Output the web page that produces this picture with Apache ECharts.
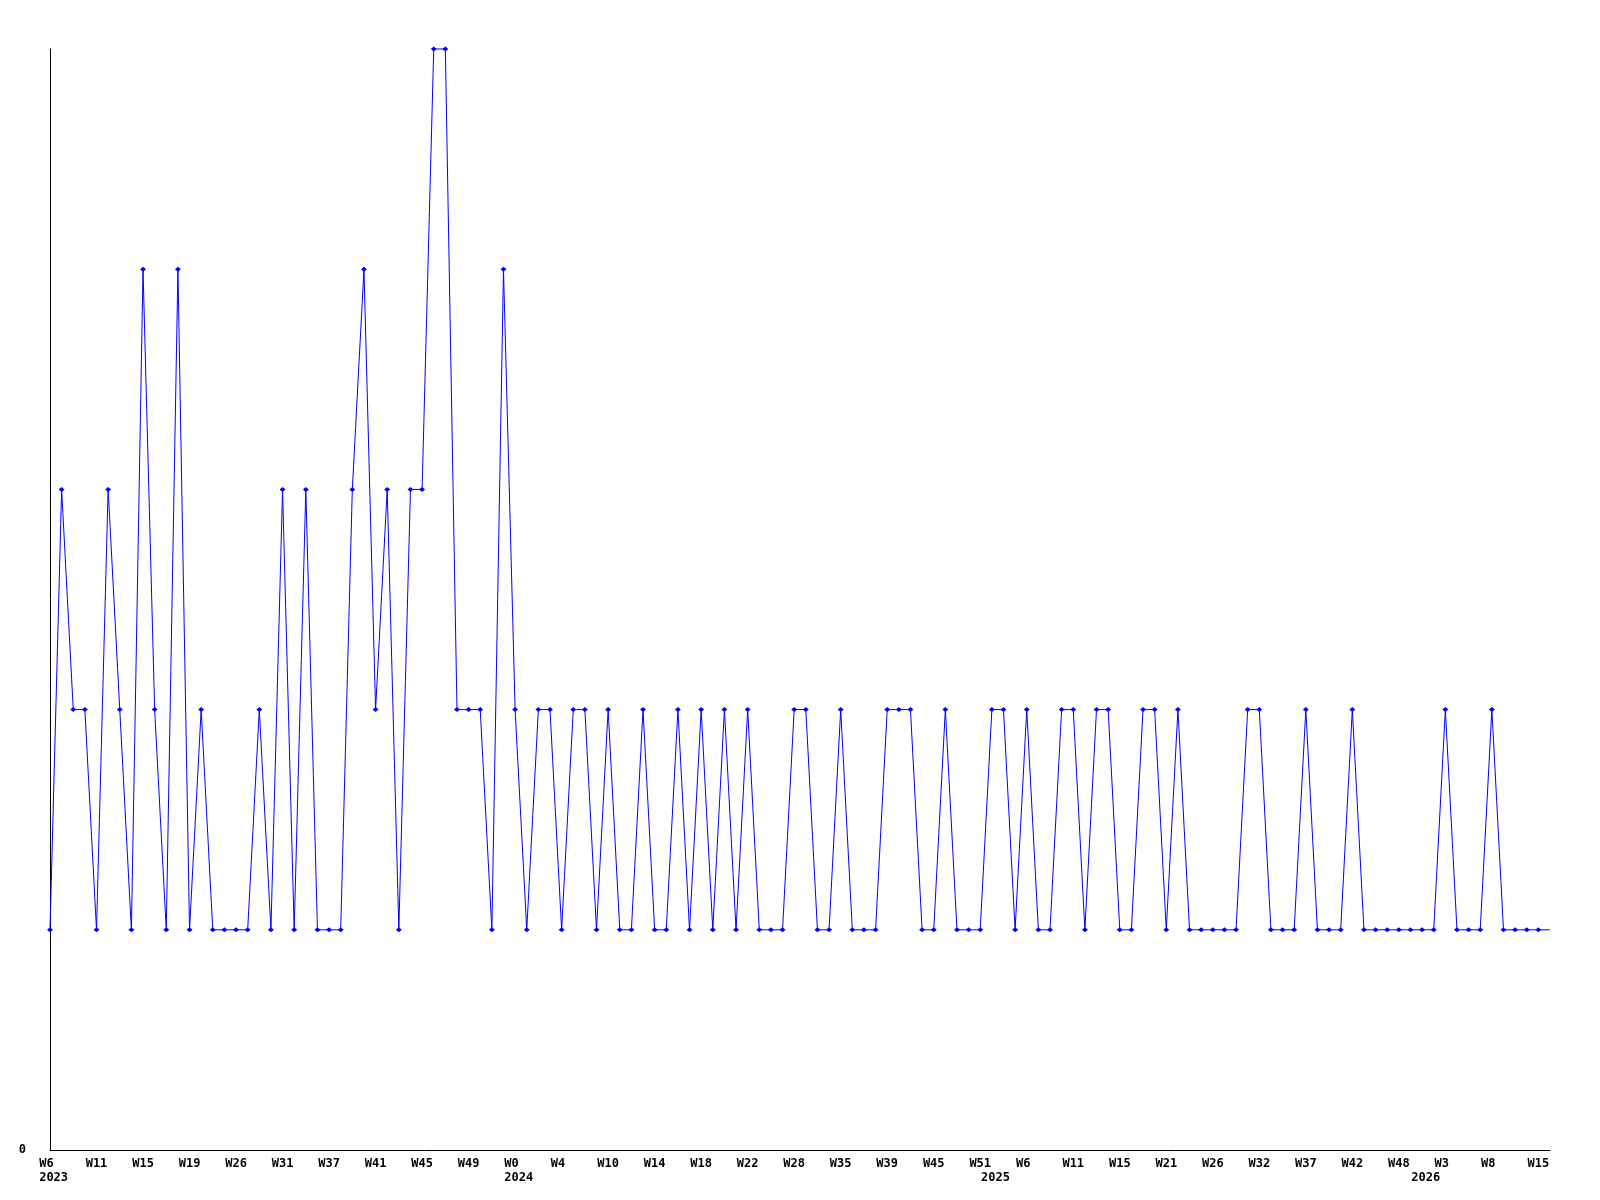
<!DOCTYPE html>
<html>
<head>
<meta charset="utf-8">
<script src="https://cdn.jsdelivr.net/npm/echarts@6/dist/echarts.min.js"></script>
<style>
html,body{margin:0;padding:0;background:#fff;}
#chart{width:1600px;height:1200px;}
</style>
</head>
<body>
<div id="chart"></div>
<script>
// Week categories (labels shown every 4th point)
const weeks = [
 'W6','W7','W8','W9','W11','W12','W13','W14','W15','W16','W17','W18','W19','W21','W22','W24',
 'W26','W27','W29','W30','W31','W33','W34','W35','W37','W38','W39','W40','W41','W42','W43','W44',
 'W45','W46','W47','W48','W49','W50','W51','W52','W0','W1','W2','W3','W4','W6','W7','W9',
 'W10','W11','W12','W13','W14','W15','W16','W17','W18','W19','W20','W21','W22','W24','W25','W27',
 'W28','W30','W32','W33','W35','W36','W37','W38','W39','W41','W42','W43','W45','W47','W48','W50',
 'W51','W1','W3','W4','W6','W7','W9','W10','W11','W12','W13','W14','W15','W17','W18','W20',
 'W21','W22','W24','W25','W26','W28','W30','W31','W32','W34','W35','W36','W37','W38','W40','W41',
 'W42','W43','W45','W46','W48','W50','W1','W2','W3','W5','W6','W7','W8','W10','W12','W13',
 'W15','W16'
];
// Year names and the category index where each year starts
const yearNames = ['2023','2024','2025','2026'];
const yearStartIndex = [0, 40, 81, 118];

// Series values
const values = [
 1,3,2,2,1,3,2,1,4,2,1,4,1,2,1,1,1,
 1,2,1,3,1,3,1,1,1,3,4,2,3,1,3,3,
 5,5,2,2,2,1,4,2,1,2,2,1,2,2,1,2,1,
 1,2,1,1,2,1,2,1,2,1,2,1,1,1,2,2,
 1,1,2,1,1,1,2,2,2,1,1,2,1,1,1,2,2,
 1,2,1,1,2,2,1,2,2,1,1,2,2,1,2,1,
 1,1,1,1,2,2,1,1,1,2,1,1,1,2,1,1,
 1,1,1,1,1,2,1,1,1,2,1,1,1,1,1
];

const font = 'DejaVu Sans Mono';
const seriesData = values.map((v, i) =>
  i === values.length - 1 ? {value: v, symbol: 'none'} : v);

const chart = echarts.init(document.getElementById('chart'), null, {renderer: 'canvas'});
chart.setOption({
  animation: false,
  backgroundColor: '#ffffff',
  grid: {left: 50, right: 50, top: 49, bottom: 50, containLabel: false},
  xAxis: [
    {
      type: 'category',
      data: weeks,
      boundaryGap: false,
      position: 'bottom',
      axisLine: {show: true, lineStyle: {color: '#000', width: 1}},
      axisTick: {show: false},
      splitLine: {show: false},
      axisLabel: {
        interval: 3,
        hideOverlap: false,
        margin: 8,
        color: '#000',
        fontFamily: font,
        fontWeight: 'bold',
        fontSize: 12,
        formatter: v => v.padEnd(3, ' ')
      }
    },
    {
      type: 'category',
      data: weeks,
      boundaryGap: false,
      position: 'bottom',
      offset: 0,
      axisLine: {show: false},
      axisTick: {show: false},
      splitLine: {show: false},
      axisLabel: {
        interval: (idx) => yearStartIndex.indexOf(idx) >= 0,
        hideOverlap: false,
        margin: 22,
        color: '#000',
        fontFamily: font,
        fontWeight: 'bold',
        fontSize: 12,
        formatter: (v, idx) => {
          const k = yearStartIndex.indexOf(idx);
          return k >= 0 ? ' ' + yearNames[k] : '';
        }
      }
    }
  ],
  yAxis: {
    type: 'value',
    min: 0,
    max: 5,
    interval: 5,
    axisLine: {show: true, lineStyle: {color: '#000', width: 1}},
    axisTick: {show: false},
    splitLine: {show: false},
    axisLabel: {
      margin: 24,
      color: '#000',
      fontFamily: font,
      fontWeight: 'bold',
      fontSize: 12,
      padding: [4, 0, 0, 0],
      formatter: v => (v === 0 ? '0' : '')
    }
  },
  series: [{
    type: 'line',
    xAxisIndex: 0,
    data: seriesData,
    lineStyle: {color: '#0000ff', width: 1},
    itemStyle: {color: '#0000ff'},
    symbol: 'diamond',
    symbolSize: [6, 5],
    showSymbol: true,
    showAllSymbol: true,
    clip: false
  }]
});
</script>
</body>
</html>
